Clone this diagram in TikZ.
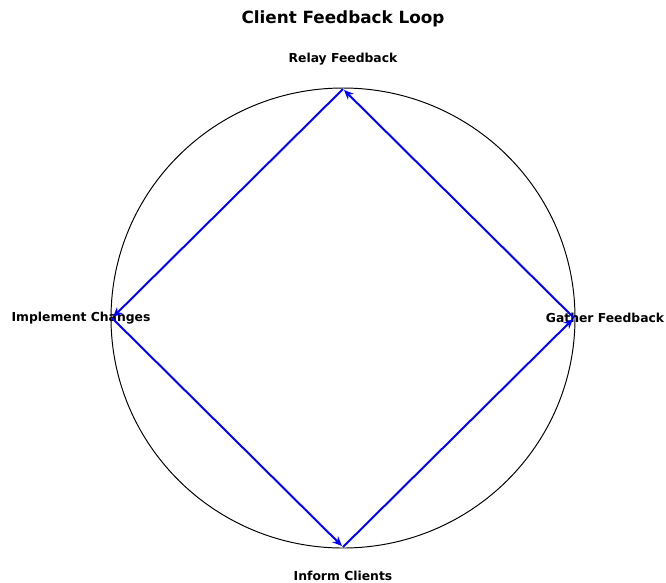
\documentclass[tikz,border=0pt]{standalone}
\usepackage{fontspec}
\setmainfont{DejaVu Sans}
\usepackage{tikz}
\usepackage{xcolor}
\usetikzlibrary{arrows.meta}
\tikzset{
    loop-arrow/.style = {draw=blue, line width=1.4pt, -{Stealth[length=7pt,width=6pt]}, shorten >=1pt},
    stage-label/.style = {font=\bfseries\fontsize{8.9}{11}\selectfont, inner sep=0pt},
    loop-title/.style = {font=\bfseries\fontsize{12.1}{15}\selectfont, inner sep=0pt},
}

\begin{document}
\begin{tikzpicture}[x=0.72pt, y=-0.72pt]
\useasboundingbox (0,0) rectangle (666,582);
\node[loop-title] (title) at (343,19) {Client Feedback Loop};
\draw[black, line width=0.7pt] (343,318) ellipse [x radius=232, y radius=230];
% the four stages round the loop
\coordinate (gather) at (574,318);
\coordinate (relay) at (343,89);
\coordinate (implement) at (112,318);
\coordinate (inform) at (343,547);
\node[stage-label] (gather-label) at (605,318) {Gather Feedback};
\node[stage-label] (relay-label) at (343,59) {Relay Feedback};
\node[stage-label] (implement-label) at (81,318) {Implement Changes};
\node[stage-label] (inform-label) at (343,576) {Inform Clients};
\draw[loop-arrow] (gather) -- (relay);
\draw[loop-arrow] (relay) -- (implement);
\draw[loop-arrow] (implement) -- (inform);
\draw[loop-arrow] (inform) -- (gather);
\end{tikzpicture}
\end{document}
